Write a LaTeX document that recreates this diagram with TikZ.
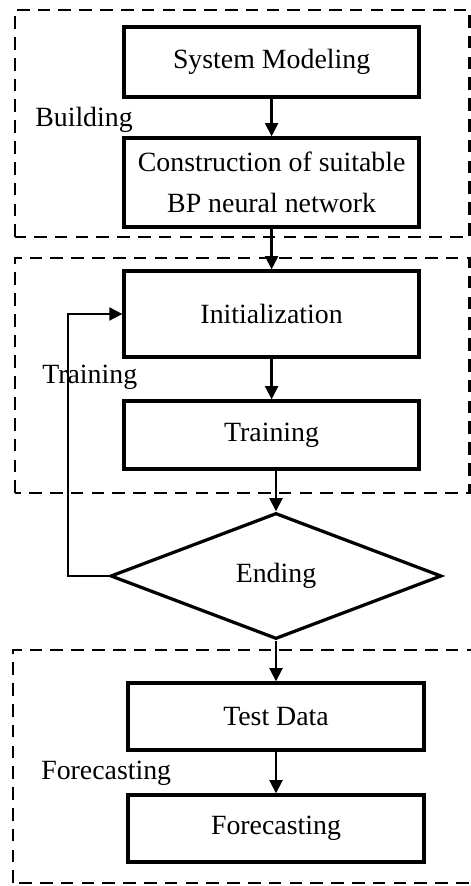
\documentclass[tikz,border=0pt]{standalone}
\usepackage{fontspec}
\setmainfont{Liberation Serif}
\usepackage{tikz}
\usetikzlibrary{arrows.meta,shapes.geometric,positioning}

\tikzset{
  stepbox/.style={draw, line width=2.3pt, minimum width=7.375cm, align=center, inner sep=0pt},
  decide/.style={draw, diamond, line width=2.3pt, minimum width=8.275cm, minimum height=3.15cm, inner sep=0pt},
  frame/.style={line width=2pt, dash pattern=on 9pt off 5.8pt},
  flow/.style={line width=1.9pt, -{Triangle[length=0.33cm,width=0.32cm]}},
  phase/.style={anchor=west, inner sep=0pt}
}

\begin{document}
\begin{tikzpicture}[font=\fontsize{19.8}{29}\selectfont]
\useasboundingbox (0,0) rectangle (11.75,22.15);

% dashed phase frames
\draw[frame] (0.375,16.225) rectangle (11.74,21.9);
\draw[frame] (0.375,9.825) rectangle (11.74,15.7);
\draw[frame] (0.325,0.075) rectangle (11.9,5.9);

% phase labels
\node[phase] (building) at (0.875,19.15) {Building};
\node[phase] (training) at (1.05,12.725) {Training};
\node[phase] (forecasting) at (1.025,2.825) {Forecasting};

% Building
\node[stepbox, minimum height=1.75cm] (sysmod) at (6.79,20.6) {System Modeling};
\node[stepbox, minimum height=2.225cm] (construct) at (6.79,17.5875) {Construction of suitable\\BP neural network};

% Training
\node[stepbox, minimum height=2.15cm] (init) at (6.79,14.3) {Initialization};
\node[stepbox, minimum height=1.7cm] (train) at (6.79,11.275) {Training};

% Ending test
\node[decide] (ending) at (6.9,7.75) {Ending};
\coordinate (fb) at (1.7,7.75);

% Forecasting
\node[stepbox, minimum width=7.4cm, minimum height=1.675cm] (test) at (6.9,4.2375) {Test Data};
\node[stepbox, minimum width=7.4cm, minimum height=1.675cm] (forecast) at (6.9,1.4375) {Forecasting};

\draw[flow] (sysmod) -- (construct);
\draw[flow] (construct) -- (init);
\draw[flow] (init) -- (train);
\draw[flow] (ending.north |- train.south) -- (ending.north);
\draw[flow] (ending.west) -- (fb) |- (init.west);
\draw[flow] (ending.south) -- (ending.south |- test.north);
\draw[flow] (test) -- (forecast);

\end{tikzpicture}
\end{document}
